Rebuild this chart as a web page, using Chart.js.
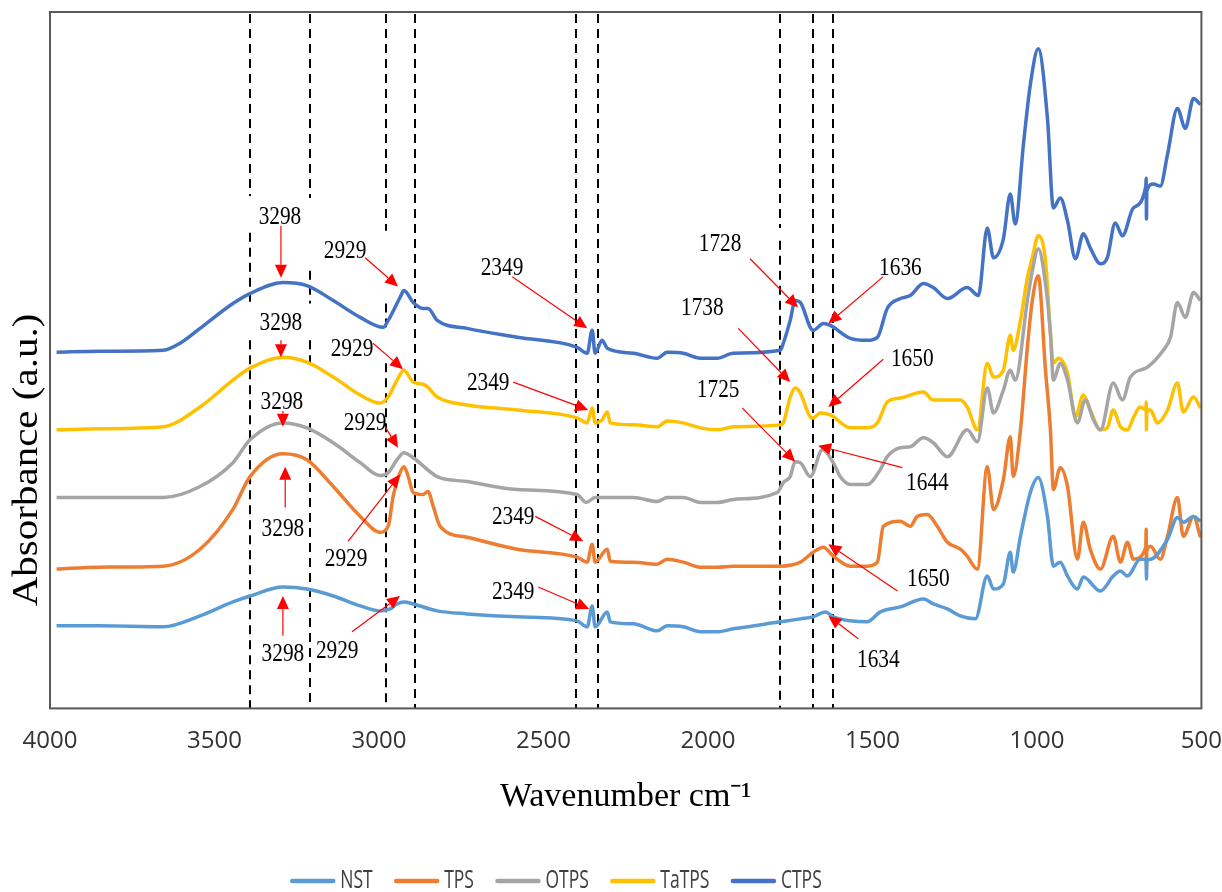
<!DOCTYPE html>
<html>
<head>
<meta charset="utf-8">
<script src="https://cdn.jsdelivr.net/npm/chart.js@4.4.1/dist/chart.umd.min.js"></script>
<style>
  html, body { margin: 0; padding: 0; background: #fff; overflow: hidden; }
  canvas { display: block; }
</style>
</head>
<body>
<canvas id="ftir" width="1240" height="892"></canvas>
<script>
// FTIR spectra, stacked with offsets: [wavenumber cm-1, absorbance a.u.]
const seriesNames = ["NST", "TPS", "OTPS", "TaTPS", "CTPS"];
const seriesColors = ["#5B9BD5", "#ED7D31", "#A5A5A5", "#FFC000", "#4472C4"];
const xTicks = [4000, 3500, 3000, 2500, 2000, 1500, 1000, 500];

const nst = [[3980,0.83],[3850,0.83],[3656,0.82],[3544,0.93],[3444,1.07],[3392,1.13],[3292,1.22],[3219,1.20],[3139,1.13],[3057,1.03],[2997,0.98],[2966,1.00],[2945,1.05],[2924,1.07],[2896,1.05],[2823,0.98],[2732,0.95],[2580,0.92],[2398,0.88],[2367,0.82],[2352,1.03],[2343,0.82],[2306,0.97],[2297,0.87],[2227,0.85],[2154,0.78],[2124,0.83],[2075,0.82],[2023,0.77],[1972,0.77],[1923,0.80],[1780,0.87],[1719,0.90],[1680,0.92],[1643,0.97],[1619,0.92],[1567,0.88],[1516,0.87],[1476,0.97],[1415,1.02],[1345,1.10],[1315,1.05],[1272,1.00],[1233,0.93],[1187,0.90],[1151,1.33],[1132,1.20],[1102,1.25],[1081,1.57],[1072,1.37],[1050,1.73],[1020,2.17],[996,2.32],[968,1.93],[950,1.43],[929,1.47],[907,1.33],[877,1.20],[859,1.32],[807,1.18],[768,1.33],[746,1.38],[725,1.33],[686,1.50],[669,1.50],[668,1.50],[667,1.30],[666,1.48],[655,1.50],[603,1.70],[573,1.92],[555,1.87],[524,1.93],[503,1.88]];

const tps = [[3980,1.40],[3850,1.42],[3656,1.43],[3544,1.60],[3444,2.00],[3392,2.33],[3292,2.56],[3219,2.50],[3139,2.23],[3057,1.93],[2997,1.77],[2972,1.83],[2957,2.13],[2936,2.37],[2924,2.43],[2911,2.33],[2896,2.17],[2866,2.15],[2851,2.18],[2835,2.03],[2814,1.83],[2732,1.72],[2580,1.60],[2398,1.52],[2367,1.47],[2352,1.65],[2343,1.47],[2306,1.60],[2297,1.48],[2227,1.47],[2154,1.45],[2124,1.50],[2075,1.47],[2023,1.42],[1972,1.42],[1923,1.43],[1780,1.43],[1719,1.47],[1680,1.57],[1649,1.62],[1619,1.53],[1567,1.43],[1516,1.43],[1485,1.47],[1467,1.83],[1415,1.88],[1385,1.83],[1364,1.93],[1333,1.95],[1303,1.83],[1272,1.67],[1233,1.60],[1212,1.53],[1181,1.40],[1151,2.43],[1132,2.00],[1102,2.30],[1081,2.73],[1072,2.33],[1050,2.80],[1029,3.63],[1014,4.10],[996,4.35],[974,3.40],[959,2.80],[950,2.20],[929,2.42],[907,2.23],[877,1.50],[859,1.87],[838,1.60],[807,1.40],[768,1.73],[746,1.47],[725,1.67],[707,1.50],[669,1.62],[668,1.80],[667,1.40],[666,1.58],[655,1.63],[625,1.50],[603,1.73],[573,2.12],[555,1.73],[524,1.93],[503,1.72]];

const otps = [[3980,2.12],[3850,2.12],[3656,2.12],[3544,2.23],[3444,2.47],[3392,2.70],[3292,2.87],[3219,2.82],[3139,2.67],[3057,2.47],[2997,2.34],[2972,2.37],[2945,2.50],[2924,2.57],[2896,2.52],[2823,2.33],[2732,2.28],[2580,2.20],[2398,2.15],[2370,2.07],[2343,2.12],[2227,2.12],[2154,2.08],[2124,2.12],[2075,2.12],[2023,2.07],[1972,2.07],[1923,2.10],[1789,2.17],[1771,2.27],[1750,2.33],[1735,2.48],[1719,2.47],[1689,2.33],[1652,2.60],[1619,2.47],[1598,2.33],[1567,2.25],[1516,2.25],[1476,2.40],[1455,2.53],[1415,2.62],[1385,2.63],[1345,2.72],[1315,2.67],[1272,2.53],[1212,2.80],[1181,2.68],[1151,3.22],[1132,2.97],[1102,3.20],[1081,3.40],[1066,3.30],[1029,4.10],[1014,4.40],[996,4.62],[974,4.27],[959,3.77],[950,3.30],[929,3.47],[907,3.30],[877,2.87],[853,3.10],[828,2.90],[807,2.80],[768,3.27],[740,3.10],[716,3.33],[664,3.43],[616,3.60],[594,3.73],[573,4.08],[549,3.93],[524,4.18],[503,4.10]];

const tatps = [[3980,2.80],[3850,2.81],[3656,2.83],[3544,3.03],[3444,3.30],[3392,3.42],[3292,3.53],[3219,3.48],[3139,3.33],[3057,3.15],[2997,3.07],[2972,3.13],[2945,3.30],[2924,3.40],[2896,3.28],[2860,3.25],[2823,3.13],[2732,3.05],[2580,3.00],[2398,2.92],[2367,2.87],[2352,3.02],[2343,2.87],[2322,2.90],[2306,2.98],[2297,2.87],[2227,2.85],[2154,2.83],[2124,2.89],[2075,2.87],[2023,2.82],[1972,2.80],[1923,2.83],[1780,2.85],[1771,2.87],[1750,3.13],[1735,3.22],[1719,3.17],[1689,2.93],[1680,2.92],[1659,2.97],[1628,2.95],[1567,2.82],[1516,2.82],[1485,2.87],[1455,3.08],[1415,3.12],[1345,3.18],[1315,3.10],[1233,3.10],[1212,3.03],[1181,2.80],[1151,3.47],[1132,3.33],[1102,3.40],[1081,3.75],[1072,3.60],[1050,3.90],[1029,4.33],[1014,4.53],[996,4.75],[974,4.50],[959,3.77],[950,3.47],[935,3.52],[907,3.37],[883,2.93],[859,3.15],[838,3.00],[807,2.80],[786,2.82],[768,3.00],[746,2.83],[725,2.80],[707,2.92],[686,3.03],[669,3.00],[668,3.08],[667,2.80],[666,3.00],[655,3.00],[634,2.87],[603,3.00],[573,3.27],[555,2.98],[524,3.13],[503,3.02]];

const ctps = [[3980,3.58],[3850,3.59],[3656,3.60],[3600,3.68],[3544,3.82],[3444,4.07],[3392,4.17],[3292,4.28],[3219,4.25],[3139,4.10],[3057,3.93],[2987,3.83],[2972,3.90],[2936,4.13],[2924,4.20],[2896,4.08],[2866,4.02],[2851,4.02],[2823,3.90],[2732,3.82],[2580,3.73],[2398,3.63],[2367,3.57],[2352,3.80],[2343,3.57],[2322,3.70],[2306,3.62],[2227,3.57],[2154,3.52],[2124,3.58],[2075,3.57],[2023,3.52],[1972,3.52],[1923,3.57],[1780,3.60],[1771,3.67],[1750,3.90],[1735,4.10],[1719,4.08],[1689,3.83],[1680,3.80],[1649,3.87],[1628,3.85],[1567,3.72],[1516,3.70],[1485,3.73],[1455,4.02],[1415,4.12],[1385,4.15],[1345,4.27],[1315,4.23],[1272,4.12],[1212,4.23],[1178,4.15],[1151,4.83],[1132,4.53],[1102,4.72],[1081,5.17],[1066,4.87],[1041,5.67],[1020,6.27],[996,6.63],[968,5.93],[950,5.03],[929,5.13],[907,4.90],[883,4.52],[859,4.77],[838,4.63],[807,4.47],[786,4.53],[762,4.88],[740,4.75],[707,5.03],[669,5.25],[668,5.33],[667,4.92],[666,5.20],[646,5.27],[625,5.25],[603,5.57],[573,6.03],[549,5.83],[524,6.13],[503,6.07]];

const spectra = [nst, tps, otps, tatps, ctps];

// dashed guide lines (cm-1) and the absorbance spans where each is drawn
const guideWn = [3392, 3210, 2980, 2890, 2400, 2335, 1780, 1680, 1620];
const guideSpans = [
  [[6.98, 5.15], [4.78, 4.07], [3.70, 0]],
  [[6.98, 5.13], [4.40, 4.07], [3.70, 3.47], [2.87, 0]],
  [[6.98, 4.80], [4.07, 3.83], [3.47, 0]],
  [[6.98, 0]],
  [[6.98, 0]],
  [[6.98, 0]],
  [[6.98, 4.83], [4.70, 0]],
  [[6.98, 0]],
  [[6.98, 0]]
];

// peak labels: text, label wn, label abs, arrow start wn/abs, arrow tip wn/abs
const peakNotes = [
  ["3298", 3301, 4.94, 3298, 4.85, 3298, 4.33],
  ["2929", 3103, 4.60, 3042, 4.53, 2942, 4.24],
  ["3298", 3298, 3.87, 3298, 3.70, 3298, 3.53],
  ["2929", 3082, 3.61, 3018, 3.67, 2927, 3.41],
  ["3298", 3295, 3.08, 3292, 2.99, 3292, 2.83],
  ["2929", 3042, 2.87, 2981, 2.83, 2942, 2.62],
  ["3298", 3292, 1.80, 3285, 2.02, 3285, 2.43],
  ["2929", 3100, 1.50, 3094, 1.68, 2936, 2.35],
  ["3298", 3292, 0.55, 3292, 0.73, 3292, 1.13],
  ["2929", 3127, 0.58, 3082, 0.77, 2936, 1.13],
  ["2349", 2626, 4.43, 2595, 4.34, 2367, 3.82],
  ["1728", 1963, 4.67, 1872, 4.52, 1726, 4.03],
  ["1738", 2017, 4.02, 1908, 3.82, 1750, 3.28],
  ["2349", 2668, 3.27, 2592, 3.28, 2364, 3.00],
  ["1725", 1969, 3.20, 1896, 3.02, 1735, 2.48],
  ["2349", 2592, 1.92, 2525, 1.93, 2379, 1.68],
  ["2349", 2592, 1.17, 2516, 1.22, 2361, 1.00],
  ["1636", 1415, 4.43, 1467, 4.34, 1634, 3.87],
  ["1650", 1379, 3.51, 1467, 3.51, 1634, 3.03],
  ["1644", 1333, 2.26, 1409, 2.42, 1665, 2.64],
  ["1650", 1330, 1.30, 1424, 1.18, 1634, 1.65],
  ["1634", 1482, 0.48, 1543, 0.70, 1634, 0.93]
];

const serifFont = "'Liberation Serif', 'Times New Roman', serif";

function drawArrow(ctx, x1, y1, x2, y2) {
  const ang = Math.atan2(y2 - y1, x2 - x1);
  const len = 13, half = 6;
  const bx = x2 - len * Math.cos(ang);
  const by = y2 - len * Math.sin(ang);
  ctx.beginPath();
  ctx.moveTo(x1, y1);
  ctx.lineTo(bx, by);
  ctx.stroke();
  ctx.beginPath();
  ctx.moveTo(x2, y2);
  ctx.lineTo(bx + half * Math.sin(ang), by - half * Math.cos(ang));
  ctx.lineTo(bx - half * Math.sin(ang), by + half * Math.cos(ang));
  ctx.closePath();
  ctx.fill();
}

const ftirDecor = {
  id: "ftirDecor",
  beforeDatasetsDraw(chart) {
    const { ctx, scales: { x, y } } = chart;
    ctx.save();
    ctx.strokeStyle = "#000";
    ctx.lineWidth = 2;
    ctx.setLineDash([9, 6]);
    guideWn.forEach((wn, i) => {
      const px = Math.round(x.getPixelForValue(wn));
      guideSpans[i].forEach(([a, b]) => {
        ctx.beginPath();
        ctx.moveTo(px, y.getPixelForValue(a));
        ctx.lineTo(px, y.getPixelForValue(b));
        ctx.stroke();
      });
    });
    ctx.restore();
  },
  afterDatasetsDraw(chart) {
    const { ctx, chartArea: area, scales: { x, y } } = chart;
    ctx.save();
    // plot frame
    ctx.strokeStyle = "#595959";
    ctx.lineWidth = 2;
    ctx.strokeRect(area.left, area.top, area.right - area.left, area.bottom - area.top);

    // arrows
    ctx.strokeStyle = "#FF0000";
    ctx.fillStyle = "#FF0000";
    ctx.lineWidth = 1.2;
    peakNotes.forEach(n => {
      drawArrow(ctx, x.getPixelForValue(n[3]), y.getPixelForValue(n[4]),
                x.getPixelForValue(n[5]), y.getPixelForValue(n[6]));
    });

    // peak labels, narrowed a bit
    ctx.fillStyle = "#000";
    ctx.font = "26px " + serifFont;
    ctx.textAlign = "center";
    ctx.textBaseline = "middle";
    peakNotes.forEach(n => {
      ctx.save();
      ctx.translate(x.getPixelForValue(n[1]), y.getPixelForValue(n[2]));
      ctx.scale(0.82, 1);
      ctx.fillText(n[0], 0, 0);
      ctx.restore();
    });

    // y-axis title, sits lower than the plot middle
    ctx.save();
    ctx.translate(28, 460);
    ctx.rotate(-Math.PI / 2);
    ctx.scale(1, 0.88);
    ctx.font = "41px " + serifFont;
    ctx.fillText("Absorbance (a.u.)", 0, 0);
    ctx.restore();
    ctx.restore();
  },
  afterDraw(chart) {
    // legend: short thick line plus condensed label
    const ctx = chart.ctx;
    const squeeze = 0.7;
    ctx.save();
    ctx.font = "25px 'Open Sans', sans-serif";
    ctx.textBaseline = "middle";
    ctx.textAlign = "left";
    const widths = seriesNames.map(s => ctx.measureText(s).width * squeeze);
    const total = widths.reduce((a, w) => a + 50 + w, 0) + 21.5 * (seriesNames.length - 1);
    let lx = 556 - total / 2;
    const ly = 881;
    seriesNames.forEach((name, i) => {
      ctx.strokeStyle = seriesColors[i];
      ctx.lineWidth = 4.5;
      ctx.lineCap = "round";
      ctx.beginPath();
      ctx.moveTo(lx + 2, ly);
      ctx.lineTo(lx + 43, ly);
      ctx.stroke();
      ctx.save();
      ctx.translate(lx + 50, ly);
      ctx.scale(squeeze, 1);
      ctx.fillStyle = "#404040";
      ctx.fillText(name, 0, 0);
      ctx.restore();
      lx += 50 + widths[i] + 21.5;
    });
    ctx.restore();
  }
};

new Chart(document.getElementById("ftir"), {
  type: "line",
  data: {
    datasets: seriesNames.map((name, i) => ({
      label: name,
      data: spectra[i].map(([wn, a]) => ({ x: wn, y: a })),
      borderColor: seriesColors[i],
      backgroundColor: seriesColors[i],
      borderWidth: 3.5,
      pointRadius: 0,
      fill: false,
      cubicInterpolationMode: "monotone"
    }))
  },
  options: {
    responsive: false,
    animation: false,
    devicePixelRatio: 1,
    layout: { padding: { top: 12, left: 50, right: 0, bottom: 75 } },
    plugins: {
      tooltip: { enabled: false },
      legend: { display: false }
    },
    scales: {
      x: {
        type: "linear",
        reverse: true,
        min: 500,
        max: 4000,
        afterBuildTicks: axis => { axis.ticks = xTicks.map(v => ({ value: v })); },
        ticks: {
          color: "#333",
          padding: 18,
          maxRotation: 0,
          callback: v => String(v),
          font: { family: "'Open Sans', sans-serif", size: 24 }
        },
        grid: { display: false, drawTicks: false },
        border: { display: false },
        title: {
          display: true,
          text: "Wavenumber cm\u207B\u00B9",
          color: "#000",
          font: { family: serifFont, size: 34 },
          padding: { top: 3, bottom: 0 }
        }
      },
      y: {
        min: 0,
        max: 7,
        ticks: { display: false },
        grid: { display: false, drawTicks: false },
        border: { display: false }
      }
    }
  },
  plugins: [ftirDecor]
});
</script>
</body>
</html>
